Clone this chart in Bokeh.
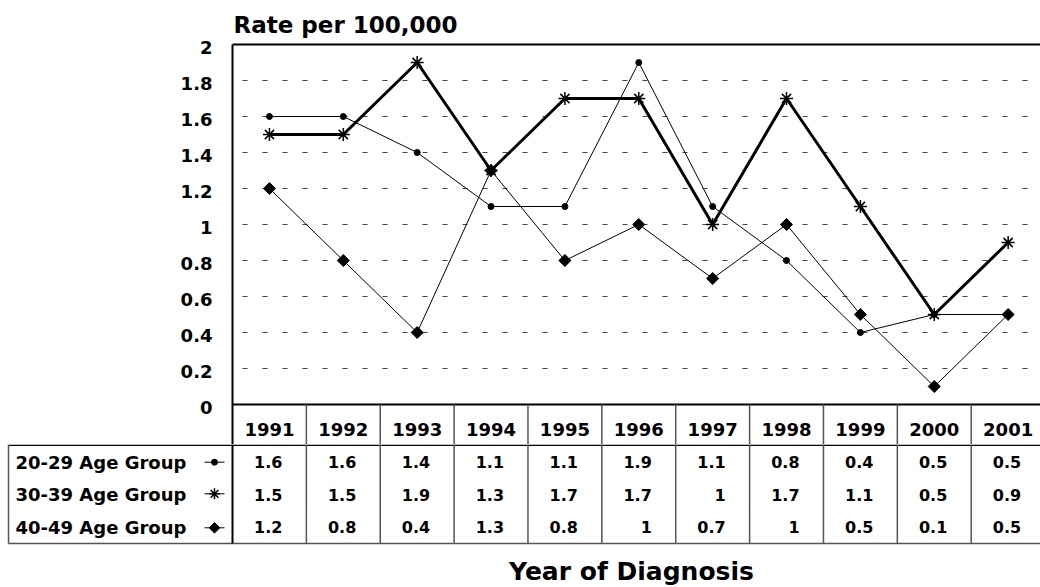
import math
from bokeh.plotting import figure
from bokeh.layouts import column
from bokeh.models import (Range1d, LinearAxis, FixedTicker, CustomJSTickFormatter,
                          Grid)
from bokeh.core.properties import value
from bokeh.embed import file_html
from bokeh.resources import INLINE

# ---------------- data ----------------
years = ["1991", "1992", "1993", "1994", "1995", "1996", "1997", "1998", "1999", "2000", "2001"]
series_names = ["20-29 Age Group", "30-39 Age Group", "40-49 Age Group"]
age_20_29 = [1.6, 1.6, 1.4, 1.1, 1.1, 1.9, 1.1, 0.8, 0.4, 0.5, 0.5]
age_30_39 = [1.5, 1.5, 1.9, 1.3, 1.7, 1.7, 1.0, 1.7, 1.1, 0.5, 0.9]
age_40_49 = [1.2, 0.8, 0.4, 1.3, 0.8, 1.0, 0.7, 1.0, 0.5, 0.1, 0.5]
y_ticks = [0, 0.2, 0.4, 0.6, 0.8, 1.0, 1.2, 1.4, 1.6, 1.8, 2.0]
grid_ticks = [0.2, 0.4, 0.6, 0.8, 1.0, 1.2, 1.4, 1.6, 1.8]
y_title = "Rate per 100,000"
x_title = "Year of Diagnosis"

# ---------------- layout constants ----------------
FONT = value("DejaVu Sans")
W = 1040
LEFT = 232            # width of label column / y-axis panel
UNIT = 73.87          # px per year column
PX_Y = 180.0          # px per 1.0 rate
HA = 444              # chart figure height
HB = 143              # table figure height
TXT = 7.5             # baseline correction for rendered text
X_END = (W - LEFT) / UNIT
Y_TOP = 2.0 + 44 / PX_Y
Y_BOT = -40 / PX_Y
n = len(years)
xs = [i + 0.5 for i in range(n)]

# ---------------- chart figure ----------------
p = figure(width=W, height=HA, x_range=Range1d(0, X_END), y_range=Range1d(Y_BOT, Y_TOP),
           x_axis_location=None, y_axis_location=None, toolbar_location=None,
           output_backend="svg", min_border_left=LEFT, min_border_right=0,
           min_border_top=0, min_border_bottom=0, outline_line_color=None,
           background_fill_color="white", border_fill_color="white", frame_align=False)
p.xgrid.visible = False
p.ygrid.visible = False

grid = Grid(dimension=1, ticker=FixedTicker(ticks=grid_ticks), grid_line_color="#444444",
            grid_line_width=1, grid_line_dash="5 15", grid_line_dash_offset=10)
p.add_layout(grid)

d = 3 / PX_Y
p.extra_y_ranges = {"lab": Range1d(Y_BOT + d, Y_TOP + d)}
yax = LinearAxis(y_range_name="lab", ticker=FixedTicker(ticks=y_ticks),
                 formatter=CustomJSTickFormatter(code="return (Math.round(tick*10)/10).toString();"),
                 axis_line_color="black", axis_line_width=2,
                 major_tick_in=0, major_tick_out=0, major_tick_line_color=None,
                 minor_tick_line_color=None, major_label_standoff=20,
                 major_label_text_font="DejaVu Sans", major_label_text_font_style="bold",
                 major_label_text_font_size="18px", major_label_text_color="black",
                 bounds=(Y_BOT + d, 2.0 + d))
p.add_layout(yax, "left")

# borders: top of plot and zero line, header-row dividers
p.segment(x0=[0, 0], y0=[2.0, 0.0], x1=[X_END, X_END], y1=[2.0, 0.0],
          line_color="black", line_width=2)
p.segment(x0=list(range(1, n)), y0=[0.0] * (n - 1), x1=list(range(1, n)), y1=[Y_BOT] * (n - 1),
          line_color="#555555", line_width=1.5)

# title of y axis
p.text(x=[1 / UNIT], y=[Y_TOP - (31.7 - TXT) / PX_Y], text=[y_title], text_font=FONT,
       text_font_style="bold", text_font_size="23px", text_align="left",
       text_baseline="alphabetic", text_color="black")

# year header labels
p.text(x=xs, y=[Y_TOP - (436.7 - TXT) / PX_Y] * n, text=years, text_font=FONT,
       text_font_style="bold", text_font_size="18px", text_align="center",
       text_baseline="alphabetic", text_color="black")

# series
p.line(xs, age_20_29, line_color="black", line_width=1)
p.scatter(xs, age_20_29, marker="circle", size=6, fill_color="black", line_color="black")
p.line(xs, age_40_49, line_color="black", line_width=1)
p.scatter(xs, age_40_49, marker="square", angle=math.pi / 4, size=8.5,
          fill_color="black", line_color="black")
p.line(xs, age_30_39, line_color="black", line_width=3)
p.scatter(xs, age_30_39, marker="asterisk", size=13, line_color="black", line_width=1.5)

# ---------------- table figure ----------------
XF = -LEFT / UNIT              # left edge of the figure
XL = (8 - LEFT) / UNIT         # left border of the table
t = figure(width=W, height=HB, x_range=Range1d(XF, X_END), y_range=Range1d(HB, 0),
           x_axis_location=None, y_axis_location=None, toolbar_location=None,
           output_backend="svg", min_border_left=0, min_border_right=0,
           min_border_top=0, min_border_bottom=0, outline_line_color=None,
           background_fill_color="white", border_fill_color="white", frame_align=False)
t.xgrid.visible = False
t.ygrid.visible = False

ROW_BOTTOM = 99
# horizontal borders
t.segment(x0=[XL], y0=[0.75], x1=[X_END], y1=[0.75], line_color="black", line_width=1.5)
t.segment(x0=[XL], y0=[ROW_BOTTOM], x1=[X_END], y1=[ROW_BOTTOM], line_color="#555555", line_width=1.5)
# vertical borders
t.segment(x0=[XL], y0=[0], x1=[XL], y1=[ROW_BOTTOM], line_color="#555555", line_width=1.5)
t.segment(x0=[0], y0=[0], x1=[0], y1=[ROW_BOTTOM], line_color="black", line_width=2)
t.segment(x0=list(range(1, n)), y0=[0] * (n - 1), x1=list(range(1, n)), y1=[ROW_BOTTOM] * (n - 1),
          line_color="#555555", line_width=1.5)

baselines = [25.3, 57.7, 90.3]
all_series = [age_20_29, age_30_39, age_40_49]
tb = [b - TXT for b in baselines]

# row labels
t.text(x=[(15 - LEFT) / UNIT] * 3, y=tb, text=series_names, text_font=FONT,
       text_font_style="bold", text_font_size="18px", text_align="left",
       text_baseline="alphabetic", text_color="black")

# values
vx, vy, vt = [], [], []
for s, b in zip(all_series, tb):
    for i, v in enumerate(s):
        vx.append(i + 0.5 + 13 / UNIT)
        vy.append(b)
        vt.append(f"{v:g}")
t.text(x=vx, y=vy, text=vt, text_font=FONT, text_font_style="bold", text_font_size="16px",
       text_align="right", text_baseline="alphabetic", text_color="black")

# legend keys
kx0 = (204 - LEFT) / UNIT
kx1 = (224 - LEFT) / UNIT
kxc = (kx0 + kx1) / 2
ky = [17.7, 49.3, 83.3]
t.segment(x0=[kx0] * 3, y0=ky, x1=[kx1] * 3, y1=ky, line_color="black", line_width=1)
t.scatter([kxc], [ky[0]], marker="circle", size=6, fill_color="black", line_color="black")
t.scatter([kxc], [ky[1]], marker="asterisk", size=11, line_color="black", line_width=1.5)
t.scatter([kxc], [ky[2]], marker="square", angle=math.pi / 4, size=7.5,
          fill_color="black", line_color="black")

# x-axis title
t.text(x=[(631 - LEFT) / UNIT], y=[134.5 - TXT], text=[x_title], text_font=FONT,
       text_font_style="bold", text_font_size="25px", text_align="center",
       text_baseline="alphabetic", text_color="black")

layout = column(p, t, spacing=0)
open("out.html", "w").write(file_html(layout, INLINE))
